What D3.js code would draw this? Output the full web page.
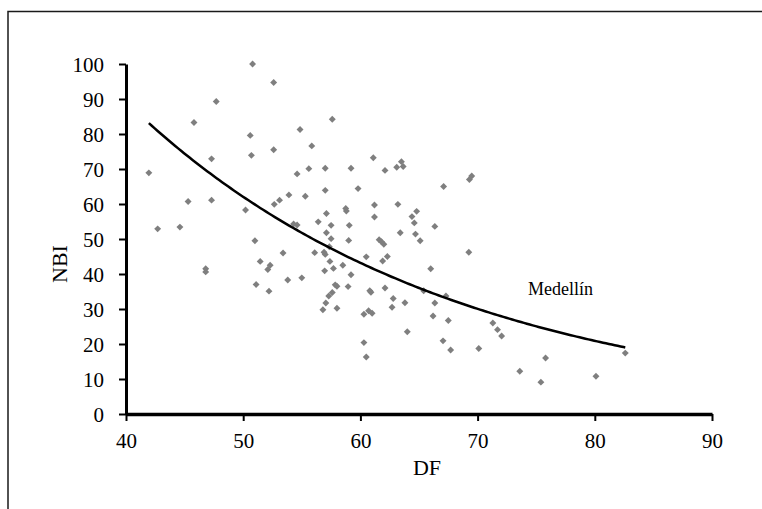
<!DOCTYPE html>
<head>
  <meta charset="utf-8">
</head>
<style>
body {
  margin: 0;
  background: white;
}
text {
  font-family: "Liberation Serif", "Times New Roman", serif;
  fill: #000;
}
</style>
<body>
<script src="https://d3js.org/d3.v7.min.js"></script>
<script>
var width = 762,
    height = 509;

// DF values (x)
var dfValues = [41.95, 42.7, 44.6, 45.3, 45.8, 46.8, 46.8, 47.3, 47.3, 47.7,
  50.2, 50.6, 50.7, 50.8, 51.0, 51.1, 51.45, 52.1, 52.3, 52.2,
  52.6, 52.6, 52.65, 53.1, 53.4, 53.8, 53.9, 54.3, 54.6, 54.6,
  54.85, 55.0, 55.3, 55.6, 55.85, 56.1, 56.4, 56.8, 56.9, 56.95,
  57.0, 57.0, 57.05, 57.1, 57.1, 57.0, 57.3, 57.35, 57.4, 57.5,
  57.5, 57.6, 57.6, 57.7, 57.85, 58.0, 58.0, 58.5, 58.75, 58.8,
  58.95, 59.0, 59.05, 59.2, 59.2, 59.8, 60.3, 60.3, 60.5, 60.5,
  60.7, 60.8, 60.9, 61.0, 61.1, 61.2, 61.2, 61.6, 61.8, 62.0,
  61.9, 62.1, 62.1, 62.3, 62.7, 62.8, 63.1, 63.2, 63.4, 63.5,
  63.65, 63.8, 64.0, 64.4, 64.6, 64.7, 64.8, 65.1, 65.4, 66.0,
  66.2, 66.35, 66.35, 67.05, 67.1, 67.3, 67.5, 67.7, 69.25, 69.3,
  69.5, 70.1, 71.3, 71.7, 72.05, 73.6, 75.4, 75.8, 80.1, 82.6];

// NBI values (y)
var nbiValues = [68.9, 52.9, 53.4, 60.7, 83.3, 41.5, 40.6, 61.1, 72.9, 89.3,
  58.3, 79.6, 73.9, 100, 49.5, 37.0, 43.6, 41.3, 42.5, 35.1,
  94.7, 75.5, 59.9, 61.1, 46.0, 38.3, 62.6, 54.3, 54.0, 68.6,
  81.3, 38.9, 62.2, 70.1, 76.6, 46.1, 54.9, 29.8, 46.2, 40.9,
  63.9, 70.2, 31.7, 51.8, 57.3, 45.6, 33.7, 47.8, 43.6, 50.1,
  53.9, 84.2, 34.7, 41.6, 36.9, 36.5, 30.2, 42.5, 58.7, 58.0,
  36.4, 49.6, 53.9, 39.8, 70.2, 64.4, 28.5, 20.4, 44.9, 16.3,
  29.5, 35.2, 34.8, 28.8, 73.2, 56.3, 59.7, 49.8, 49.2, 48.5,
  43.7, 36.0, 69.6, 45.0, 30.5, 33.0, 70.5, 59.9, 51.8, 72.1,
  70.7, 31.8, 23.5, 56.4, 54.6, 51.4, 57.9, 49.5, 35.2, 41.5,
  28.0, 31.7, 53.6, 20.9, 65.0, 33.7, 26.7, 18.3, 46.2, 67.0,
  68.0, 18.7, 26.0, 24.1, 22.3, 12.2, 9.1, 16.0, 10.8, 17.4];

// exponential trend line  NBI = a * exp(b * DF)
var trendA = 380.5,
    trendB = -0.03627,
    trendRange = [41.95, 82.6];

var xTicks = [40, 50, 60, 70, 80, 90];
var yTicks = [0, 10, 20, 30, 40, 50, 60, 70, 80, 90, 100];

var svg = d3.select("body").append("svg")
  .attr("width", width)
  .attr("height", height);

// outer frame
svg.append("rect")
  .attr("x", 8)
  .attr("y", 11.5)
  .attr("width", 780)
  .attr("height", 520)
  .attr("fill", "none")
  .attr("stroke", "#1a1a1a")
  .attr("stroke-width", 1.5);

var x = d3.scaleLinear().domain([40, 90]).range([126, 712]);
var y = d3.scaleLinear().domain([0, 100]).range([414, 64]);

var xAxis = svg.append("g")
  .attr("transform", "translate(0," + y(0) + ")")
  .call(d3.axisBottom(x).tickValues(xTicks).tickSize(7).tickPadding(12).tickSizeOuter(0));

var yAxis = svg.append("g")
  .attr("transform", "translate(" + x(40) + ",0)")
  .call(d3.axisLeft(y).tickValues(yTicks).tickSize(7).tickPadding(15).tickSizeOuter(0));

xAxis.select(".domain").attr("stroke-width", 3.5);
yAxis.select(".domain").attr("stroke-width", 3);
xAxis.selectAll(".tick line").attr("stroke-width", 2);
yAxis.selectAll(".tick line").attr("stroke-width", 2);

svg.selectAll(".tick text")
  .attr("font-family", "'Liberation Serif', serif")
  .attr("font-size", 21)
  .attr("fill", "#000");
yAxis.selectAll(".tick text").attr("dy", "0.35em");

var points = dfValues.map(function(d, i) { return [d, nbiValues[i]]; });

svg.append("g").selectAll("path")
  .data(points)
  .enter().append("path")
  .attr("d", d3.symbol(d3.symbolSquare, 24))
  .attr("transform", function(d) {
    return "translate(" + x(d[0]) + "," + y(d[1]) + ") rotate(45)";
  })
  .attr("fill", "#7f7f7f");

// trend curve
var curveX = d3.range(trendRange[0], trendRange[1], 0.25).concat([trendRange[1]]);
var line = d3.line()
  .x(function(d) { return x(d); })
  .y(function(d) { return y(trendA * Math.exp(trendB * d)); });

svg.append("path")
  .datum(curveX)
  .attr("d", line)
  .attr("fill", "none")
  .attr("stroke", "#000")
  .attr("stroke-width", 2.5);

svg.append("text")
  .attr("x", 528)
  .attr("y", 295)
  .attr("font-size", 18)
  .text("Medellín");

svg.append("text")
  .attr("x", 427)
  .attr("y", 475)
  .attr("text-anchor", "middle")
  .attr("font-size", 22)
  .text("DF");

svg.append("text")
  .attr("transform", "translate(67,264) rotate(-90)")
  .attr("text-anchor", "middle")
  .attr("font-size", 22)
  .text("NBI");
</script>
</body>
